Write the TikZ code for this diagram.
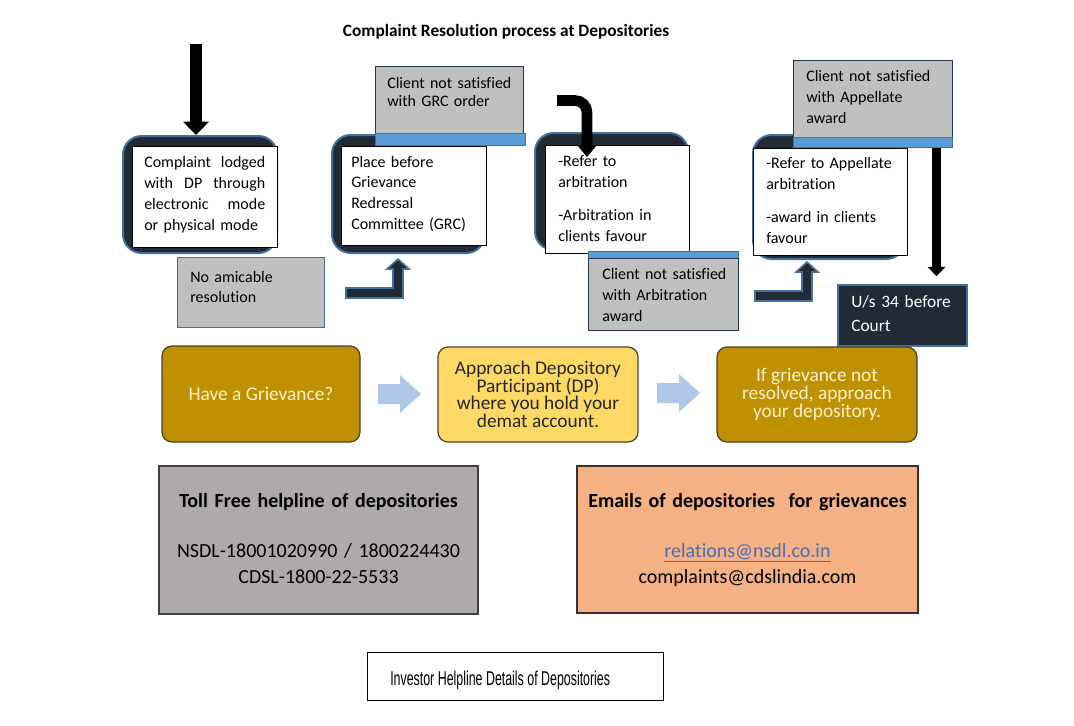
\documentclass[tikz,border=0pt]{standalone}
\usepackage{fontspec}
\setmainfont{Carlito}[Ligatures=NoCommon]
\newfontfamily\narrowfont[FakeStretch=0.62]{Liberation Sans}
\usetikzlibrary{arrows.meta,fit,calc}

\definecolor{navy}{HTML}{222A35}
\definecolor{edgeblue}{HTML}{41719C}
\definecolor{noteedge}{HTML}{26364D}
\definecolor{stripblue}{HTML}{5B9BD5}
\definecolor{boxgray}{HTML}{BFBFBF}
\definecolor{gold}{HTML}{BF9000}
\definecolor{goldedge}{HTML}{4A4030}
\definecolor{goldtext}{HTML}{FFF2CC}
\definecolor{paleyellow}{HTML}{FFD966}
\definecolor{paleblue}{HTML}{AFC8EA}
\definecolor{tollgray}{HTML}{AEAAAA}
\definecolor{peach}{HTML}{F4B183}
\definecolor{peachedge}{HTML}{3B2F2F}
\definecolor{linkblue}{HTML}{4A6FB5}

\tikzset{
  frame/.style={fill=navy, draw=edgeblue, line width=1.5pt, rounded corners=14pt, inner sep=0pt},
  card/.style={fill=white, draw=black, line width=0.75pt, inner sep=0pt},
  note/.style={fill=boxgray, draw=edgeblue, line width=0.75pt, inner sep=0pt},
  strip/.style={fill=stripblue, draw=edgeblue, line width=0.75pt, inner sep=0pt},
  txt/.style={inner sep=0pt, align=left, font=\fontsize{12}{15.75}\selectfont},
  stepbox/.style={rounded corners=7.5pt, line width=0.9pt, inner sep=0pt},
  steptxt/.style={inner sep=0pt, align=center, font=\fontsize{14.5}{13.25}\selectfont},
  goldbox/.style={stepbox, fill=gold, draw=goldedge},
  infotxt/.style={inner sep=0pt, align=center, text width=240pt, font=\fontsize{15}{19.5}\selectfont},
  droparrow/.style={draw=black, line width=9pt, -{Triangle[width=19.5pt,length=10pt,line width=0pt]}},
  hookarrow/.style={draw=black, line width=8pt, rounded corners=9pt, -{Triangle[width=15pt,length=9pt,line width=0pt]}},
  stemarrow/.style={draw=black, line width=6.5pt, -{Triangle[width=13.5pt,length=7pt,line width=0pt]}},
  bentup/.pic={
    \filldraw[fill=navy, draw=edgeblue, line width=1.2pt, line join=miter]
      (-57,0) -- (0,0) -- (0,-29) -- (6,-29) -- (-5,-39) -- (-16,-29) -- (-10,-29)
      -- (-10,-10) -- (-57,-10) -- cycle;
  },
  flowarrow/.pic={
    \fill[paleblue] (-43,-10) -- (-21,-10) -- (-21,-19) -- (0,0) -- (-21,19)
      -- (-21,10) -- (-43,10) -- cycle;
  }
}

\begin{document}
\begin{tikzpicture}[x=0.75pt,y=-0.75pt]
\useasboundingbox (0,0) rectangle (1074,725);

% title
\node[inner sep=0pt, anchor=base, font=\bfseries\fontsize{13}{15}\selectfont] (title) at (506,36)
  {Complaint Resolution process at Depositories};

% dark frames behind the steps
\node[frame, fit={(123,136) (277,253)}] (lodgeframe) {};
\node[frame, fit={(332,135) (485,253)}] (grcframe) {};
\node[frame, fit={(535,133) (688,250)}] (arbframe) {};
\node[frame, fit={(753,135) (905,259)}] (appframe) {};

% white cards
\node[card, fit={(132,146) (277,247)}] (lodge) {};
\node[card, fit={(341,146) (486,245)}] (grc) {};
\node[card, fit={(545,145) (689,253)}] (arb) {};
\node[card, fit={(753,148) (907,255)}] (app) {};

\node[txt, anchor=base west, text width=90.75pt] (lodgetext) at (144,167)
  {Complaint\hfill lodged\\with\hfill DP\hfill through\\electronic\hfill mode\\or physical mode};
\node[txt, anchor=base west, text width=105pt, font=\fontsize{12}{15.5}\selectfont] (grctext) at (351,167)
  {Place before\\Grievance\\Redressal\\Committee (GRC)};
\node[txt, anchor=base west, text width=100pt] (arbtext) at (558,166)
  {-Refer to\\arbitration\\[9pt]-Arbitration in\\clients favour};
\node[txt, anchor=base west, text width=105pt] (apptext) at (766,168)
  {-Refer to Appellate\\arbitration\\[9pt]-award in clients\\favour};

% grey notes
\node[note, fit={(177,257) (324,327)}] (noamic) {};
\node[txt, anchor=base west, text width=100pt, font=\fontsize{12}{15}\selectfont] at (190,282)
  {No amicable\\resolution};

\node[note, draw=noteedge, fit={(375,66) (523,133)}] (grcnot) {};
\node[strip, fit={(375,133) (525,145)}] (grcstrip) {};
\node[txt, anchor=base west, text width=105pt, font=\fontsize{12}{14}\selectfont] at (387,88)
  {Client not satisfied\\with GRC order};

\node[strip, fit={(588,251) (738,258)}] (arbstrip) {};
\node[note, draw=noteedge, fit={(588,258) (738,330)}] (arbnot) {};
\node[txt, anchor=base west, text width=105pt] at (602,279)
  {Client not satisfied\\with Arbitration\\award};

\node[note, draw=noteedge, fit={(793,60) (952,137)}] (appnot) {};
\node[strip, fit={(793,137) (952,147)}] (appstrip) {};
\node[txt, anchor=base west, text width=110pt] at (806,81)
  {Client not satisfied\\with Appellate\\award};

% court
\node[fill=navy, draw=edgeblue, line width=1.2pt, inner sep=0pt, fit={(838,285) (967,346)}] (court) {};
\node[txt, anchor=base west, text width=90pt, text=white, font=\fontsize{13}{18}\selectfont] at (851,307)
  {U/s 34 before\\Court};

% arrows
\coordinate (dropstart) at (196,44);
\draw[droparrow] (dropstart) -- (dropstart |- lodgeframe.north);
\coordinate (hookstart) at (557,100.5);
\coordinate (hookend) at (587,157);
\draw[hookarrow] (hookstart) -| (hookend);
\draw[stemarrow, shorten >=6pt] ([xshift=-12pt]appstrip.south east)
  -- ([xshift=-12pt]appstrip.south east |- court.north);
\pic at (403,298) {bentup};
\pic at (812,301) {bentup};

% how to raise a grievance
\node[goldbox, fit={(162,346) (360,442)}] (grievance) {};
\node[stepbox, fill=paleyellow, draw=goldedge, fit={(438,347) (638,442)}] (approach) {};
\node[goldbox, fit={(717,347) (917,442)}] (escalate) {};
\node[steptxt, text=goldtext] at (grievance.center) {Have a Grievance?};
\node[steptxt, text=black!85] at (approach.center)
  {Approach Depository\\Participant (DP)\\where you hold your\\demat account.};
\node[steptxt, text=goldtext] at (escalate.center)
  {If grievance not\\resolved, approach\\your depository.};
\pic at (421,394) {flowarrow};
\pic at (700,393) {flowarrow};

% helplines
\node[fill=tollgray, draw=black!75, line width=0.9pt, inner sep=0pt, fit={(159,466) (478,614)}] (toll) {};
\node[infotxt, anchor=base] (tolltext) at (318.5,507)
  {\textbf{Toll Free helpline of depositories}\\[18pt]NSDL-18001020990 / 1800224430\\CDSL-1800-22-5533};
\node[fill=peach, draw=peachedge, line width=0.9pt, inner sep=0pt, fit={(577,466) (918,613)}] (mail) {};
\node[infotxt, anchor=base] (mailtext) at (747.5,507)
  {\textbf{Emails of depositories\ \ for grievances}\\[18pt]\textcolor{linkblue}{\underline{relations@nsdl.co.in}}\\complaints@cdslindia.com};

% caption
\node[draw=black, line width=0.75pt, inner sep=0pt, fit={(367,652) (663,700)}] (caption) {};
\node[inner sep=0pt, anchor=base west, font=\narrowfont\fontsize{15}{18}\selectfont] (captiontext) at (390,685)
  {Investor Helpline Details of Depositories};
\end{tikzpicture}
\end{document}
